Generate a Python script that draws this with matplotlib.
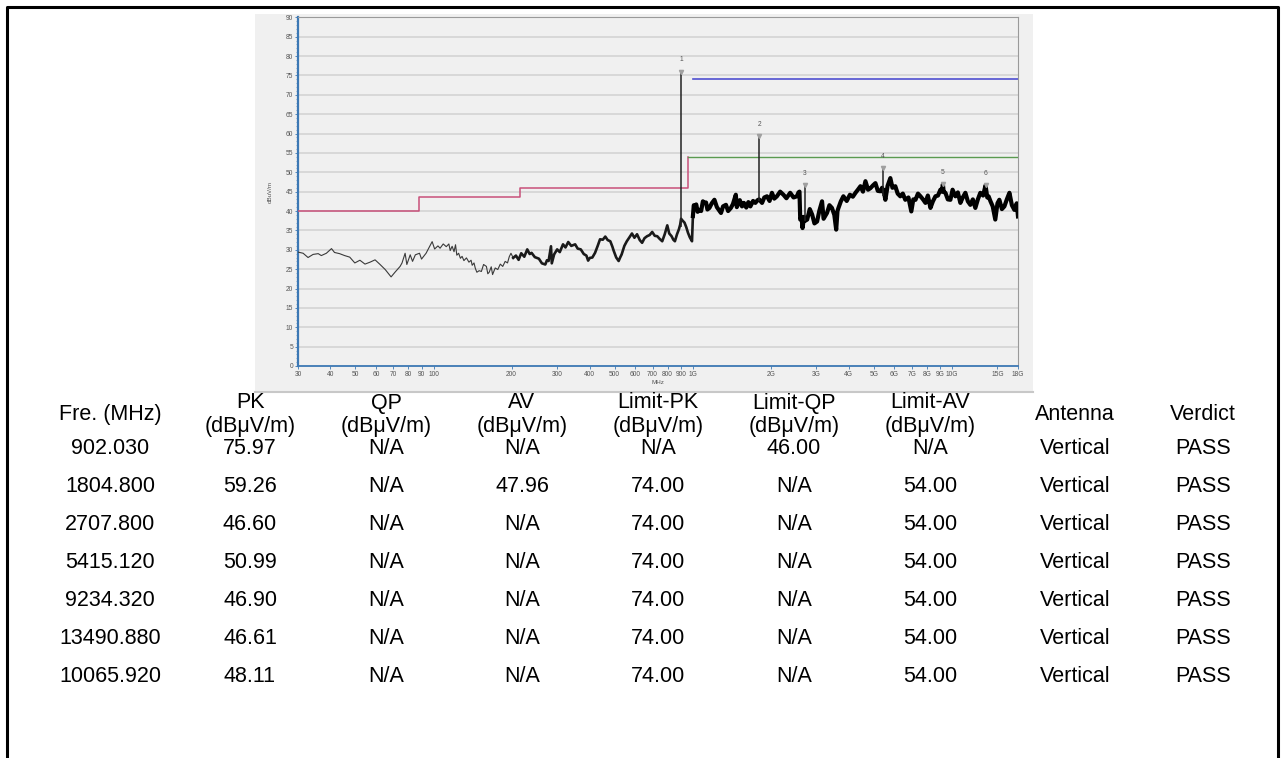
import matplotlib
matplotlib.use("Agg")
import matplotlib.pyplot as plt
from matplotlib.patches import Rectangle
from matplotlib.lines import Line2D
import matplotlib.ticker as mticker

plt.rcParams['font.family'] = ['Liberation Sans', 'DejaVu Sans']

# --- trace (MHz, dBuV/m) ---
f_low = [30, 31.4, 32.8, 34.3, 35.9, 36.9, 38.6, 40.4, 41.5, 43.4, 45.4, 47.5, 49.7, 52.0, 54.4,
         56.9, 59.5, 62.2, 65.1, 68.6, 71.0, 74.3, 75.6, 77.7, 78.9, 81.3, 83.0, 85.1, 88.3, 89.9,
         93.6, 98.8, 101, 104, 106, 109, 112, 114.6, 116, 118, 120, 121.6, 123, 125, 127, 128.9,
         131, 134, 137, 139.6, 141, 143.3, 145, 147, 150, 153, 156, 160, 162, 164, 167, 169, 173,
         177, 181, 185, 189, 193, 196, 199, 203]
v_low = [29.4, 29.1, 28.0, 28.8, 29.0, 28.5, 29.1, 30.3, 29.3, 29.0, 28.5, 28.1, 26.6, 27.3, 26.3,
         26.8, 27.4, 26.2, 24.9, 23.0, 24.2, 25.7, 26.6, 29.1, 26.2, 28.7, 27.0, 28.7, 29.1, 27.6,
         29.1, 32.1, 30.2, 31.0, 30.4, 31.5, 30.8, 31.5, 29.8, 30.9, 29.5, 31.3, 28.6, 29.1, 27.8, 28.3,
         27.2, 27.9, 26.8, 27.3, 26.0, 26.6, 25.2, 24.2, 24.6, 24.4, 26.2, 25.7, 23.8, 24.2, 25.6, 23.6, 25.3,
         24.9, 26.3, 25.7, 27.0, 26.6, 28.2, 29.1, 27.9]

f_mid = [203, 208, 213, 218, 224, 230, 235, 239, 246, 255, 262, 270, 274, 278, 284, 286, 292, 300,
         307, 316, 323, 331, 340, 352, 360, 370, 380, 389, 395, 401, 410, 420, 430, 439, 450, 460,
         470, 481, 490, 496, 507, 518, 525, 532, 545, 557, 570, 583, 596, 610, 625, 638, 652, 667,
         682, 698, 714, 730, 746, 763, 780, 798, 812, 829, 842, 854, 870, 885, 895, 902,
         915, 930, 945, 959, 975, 994, 1002]
v_mid = [27.9, 28.5, 27.4, 29.1, 28.2, 30.1, 28.9, 29.2, 28.1, 27.7, 26.5, 26.2, 27.3, 27.1, 30.9, 26.5, 28.8, 30.1,
         29.4, 31.4, 30.6, 32.0, 31.0, 31.4, 30.3, 30.1, 28.9, 28.5, 27.2, 27.9, 28.0, 29.2, 31.0, 32.7, 32.6, 33.4,
         32.5, 32.2, 30.8, 29.7, 28.0, 27.1, 28.0, 28.8, 31.0, 32.2, 33.2, 34.2, 33.1, 34.0, 32.5, 31.8, 33.0, 33.5,
         33.8, 34.6, 33.6, 33.5, 32.8, 32.2, 34.0, 36.3, 34.2, 33.5, 32.6, 32.2, 34.0, 35.3, 36.5, 38.0,
         37.5, 37.0, 35.8, 34.4, 33.2, 32.2, 38.7]

f_high = [1002, 1010, 1020, 1032, 1045, 1062, 1078, 1095, 1110, 1126, 1140, 1160, 1185, 1213, 1240,
          1265, 1286, 1310, 1344, 1370, 1404, 1430, 1467, 1480, 1520, 1550, 1576, 1610, 1640, 1670,
          1710, 1745, 1780, 1805, 1852, 1890, 1935, 1980, 2022, 2065, 2113, 2175, 2240,
          2300, 2378, 2450, 2524, 2560, 2583, 2600, 2630, 2654, 2690, 2720, 2766, 2830, 2890,
          2950, 3020, 3080, 3156, 3200, 3298, 3370, 3446, 3520, 3579, 3620, 3652, 3730, 3815, 3930,
          4043, 4150, 4248, 4340, 4440, 4540, 4641, 4750, 4851, 4960, 5071, 5180, 5300, 5380, 5415,
          5450, 5540, 5650, 5790, 5900, 6052, 6180, 6326, 6470, 6613, 6800, 6976, 7100, 7240, 7400,
          7568, 7740, 7911, 8080, 8269, 8450, 8644, 8840, 9035, 9150, 9234.32, 9300, 9445, 9650, 9872,
          10065.92, 10320, 10550, 10787, 11020, 11276, 11530, 11787, 12050, 12321, 12600, 12879, 13200,
          13490.88, 13700, 13860, 14100, 14380, 14710, 15000, 15250, 15600, 15950, 16300, 16680, 17050,
          17430, 17800, 18000]
v_high = [38.7, 41.5, 40.8, 41.7, 39.8, 40.3, 40.0, 42.5, 42.1, 42.2, 40.4, 40.8, 42.0, 42.9, 41.0,
          40.2, 39.5, 41.2, 41.6, 40.0, 40.8, 41.8, 44.2, 41.0, 42.8, 41.2, 42.1, 40.9, 42.3, 41.2,
          42.6, 42.1, 42.8, 43.0, 42.1, 43.5, 43.8, 42.6, 44.7, 43.2, 43.8, 45.0, 44.2,
          43.3, 44.7, 43.5, 43.8, 44.8, 45.0, 37.8, 38.5, 35.6, 38.5, 37.5, 37.8, 40.5, 39.1,
          36.8, 37.3, 40.0, 42.5, 38.0, 39.5, 41.5, 40.8, 39.0, 35.2, 40.0, 40.8, 42.5, 43.8, 42.6,
          44.2, 43.7, 44.7, 45.5, 46.4, 45.0, 47.7, 45.5, 45.9, 46.6, 47.2, 45.2, 45.1, 46.0, 45.0,
          45.5, 42.9, 46.5, 48.5, 46.0, 46.4, 44.5, 43.8, 44.5, 42.9, 43.5, 39.9, 43.0, 42.9, 44.5,
          43.8, 43.0, 42.1, 44.0, 40.8, 42.5, 43.8, 44.0, 45.5, 45.0, 46.9, 45.0, 44.7, 43.0, 42.9,
          45.5, 43.8, 44.8, 42.1, 43.5, 44.7, 42.5, 41.6, 43.0, 40.8, 43.0, 44.7, 44.0,
          46.61, 43.5, 43.8, 42.5, 41.2, 37.8, 42.0, 42.9, 40.5, 41.2, 43.0, 44.7, 41.5,
          40.3, 42.0, 38.6]

# narrow spikes at the marked emissions (base level, peak)
spike_f = [902.03, 1804.8, 2707.8, 5415.12]
spike_lo = [36.0, 42.5, 37.5, 44.0]
spike_hi = [75.97, 59.26, 46.60, 50.99]

# limit lines
red_f = [30, 88, 88, 216, 216, 960, 960]
red_v = [40, 40, 43.5, 43.5, 46, 46, 54]
green_f = [960, 18000]
green_v = [54, 54]
blue_f = [1000, 18000]
blue_v = [74, 74]

# markers
mk_id = ["1", "2", "3", "4", "5", "6"]
mk_f = [902.03, 1804.8, 2707.8, 5415.12, 9234.32, 13490.88]
mk_v = [75.97, 59.26, 46.60, 50.99, 46.90, 46.61]

x_ticks = [30, 40, 50, 60, 70, 80, 90, 100, 200, 300, 400, 500, 600, 700, 800, 900, 1000,
           2000, 3000, 4000, 5000, 6000, 7000, 8000, 9000, 10000, 15000, 18000]
x_labels = ["30", "40", "50", "60", "70", "80", "90", "100", "200", "300", "400", "500", "600",
            "700", "800", "900", "1G", "2G", "3G", "4G", "5G", "6G", "7G", "8G", "9G", "10G", "15G", "18G"]

# table
headers = [["Fre. (MHz)"], ["PK", "(dBμV/m)"], ["QP", "(dBμV/m)"], ["AV", "(dBμV/m)"],
           ["Limit-PK", "(dBμV/m)"], ["Limit-QP", "(dBμV/m)"], ["Limit-AV", "(dBμV/m)"],
           ["Antenna"], ["Verdict"]]
freq_col = ["902.030", "1804.800", "2707.800", "5415.120", "9234.320", "13490.880", "10065.920"]
pk_col = ["75.97", "59.26", "46.60", "50.99", "46.90", "46.61", "48.11"]
qp_col = ["N/A"] * 7
av_col = ["N/A", "47.96", "N/A", "N/A", "N/A", "N/A", "N/A"]
lpk_col = ["N/A", "74.00", "74.00", "74.00", "74.00", "74.00", "74.00"]
lqp_col = ["46.00", "N/A", "N/A", "N/A", "N/A", "N/A", "N/A"]
lav_col = ["N/A", "54.00", "54.00", "54.00", "54.00", "54.00", "54.00"]
ant_col = ["Vertical"] * 7
verdict_col = ["PASS"] * 7

W, H = 1285, 758
fig = plt.figure(figsize=(W / 100, H / 100), dpi=100)
fx = lambda x: x / W
fy = lambda y: 1 - y / H

# chart panel background
fig.patches.append(Rectangle((fx(255), fy(392)), fx(1033) - fx(255), fy(14) - fy(392),
                             transform=fig.transFigure, facecolor='#f0f0f0', edgecolor='none', zorder=-5))
fig.lines.append(Line2D([fx(255), fx(1033)], [fy(392), fy(392)], transform=fig.transFigure,
                        color='#c8c8c8', lw=1.5, zorder=-4))

ax = fig.add_axes([fx(298), fy(366), fx(1018) - fx(298), fy(17.3) - fy(366)])
ax.set_zorder(2)
ax.set_facecolor('#f0f0f0')
ax.set_xscale('log')
ax.set_xlim(30, 18000)
ax.set_ylim(0, 90)

for yv in range(5, 90, 5):
    ax.axhline(yv, color='#d6d6d6', lw=1.3, zorder=1)

ax.plot(red_f, red_v, color='#c8507a', lw=1.1, zorder=3)
ax.plot(green_f, green_v, color='#5a9a50', lw=1.0, zorder=3)
ax.plot(blue_f, blue_v, color='#5050d0', lw=1.2, zorder=3)

ax.plot(f_low, v_low, color='#3a3a3a', lw=0.8, zorder=4)
ax.plot(f_mid, v_mid, color='#1a1a1a', lw=1.9, zorder=4)
ax.plot(f_high, v_high, color='black', lw=3.0, zorder=4)
ax.vlines(spike_f, spike_lo, spike_hi, color='#222222', lw=1.1, zorder=4)

ax.plot(mk_f, mk_v, linestyle='none', marker='v', markersize=3, color='#a0a0a0', zorder=5)
for i, f, v in zip(mk_id, mk_f, mk_v):
    ax.text(f, v + 2.2, i, ha='center', va='bottom', fontsize=4.8, color='#555555')

ax.set_xticks(x_ticks)
ax.set_xticklabels(x_labels)
ax.xaxis.set_minor_locator(mticker.NullLocator())
ax.set_yticks(range(0, 91, 5))
ax.yaxis.set_minor_locator(mticker.MultipleLocator(1))
ax.tick_params(axis='both', labelsize=4.8, labelcolor='#555555', color='#3c78b4', length=2, width=0.6, pad=1.5)
ax.tick_params(axis='y', which='minor', length=1.2, width=0.4, color='#3c78b4')

ax.spines['left'].set_color('#3c78b4')
ax.spines['left'].set_linewidth(1.6)
ax.spines['bottom'].set_color('#3c78b4')
ax.spines['bottom'].set_linewidth(1.3)
for s in ['top', 'right']:
    ax.spines[s].set_color('#9a9a9a')
    ax.spines[s].set_linewidth(0.8)

ax.set_ylabel('dBuV/m', fontsize=4.5, color='#555555', labelpad=9)
ax.set_xlabel('MHz', fontsize=4.5, color='#555555', labelpad=1.5)

# outer border
fig.lines.append(Line2D([fx(7), fx(7), fx(1278), fx(1278)], [fy(770), fy(7), fy(7), fy(770)],
                        transform=fig.transFigure, color='black', lw=2.2))

# table
col_x = [110, 250, 386, 522, 658, 794, 930, 1075, 1203]
for cx, hd in zip(col_x, headers):
    if len(hd) == 1:
        fig.text(fx(cx), fy(414), hd[0], ha='center', va='center', fontsize=15.5, color='black')
    else:
        fig.text(fx(cx), fy(403), hd[0], ha='center', va='center', fontsize=15.5, color='black')
        fig.text(fx(cx), fy(426), hd[1], ha='center', va='center', fontsize=15.5, color='black')

cols = [freq_col, pk_col, qp_col, av_col, lpk_col, lqp_col, lav_col, ant_col, verdict_col]
for r in range(7):
    yy = 448 + r * 38.1
    for cx, col in zip(col_x, cols):
        fig.text(fx(cx), fy(yy), col[r], ha='center', va='center', fontsize=15.5, color='black')

fig.savefig('out.png', dpi=100, facecolor='white')
